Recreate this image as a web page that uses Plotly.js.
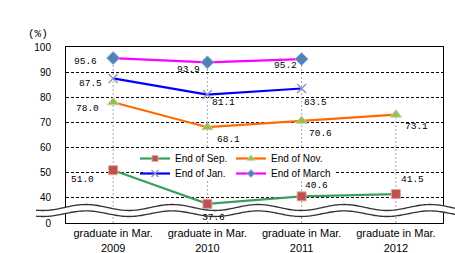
<!DOCTYPE html>
<html><head><meta charset="utf-8">
<script src="https://cdn.plot.ly/plotly-3.0.1.min.js"></script>
<style>html,body{margin:0;padding:0;background:#fff;} #chart{width:455px;height:253px;}</style>
</head><body><div id="chart"></div>
<script>
// ---- data ----
const categories = ['graduate in Mar.<br>2009', 'graduate in Mar.<br>2010', 'graduate in Mar.<br>2011', 'graduate in Mar.<br>2012'];
const seriesNames = ['End of Sep.', 'End of Nov.', 'End of Jan.', 'End of March'];
const endSep = [51.0, 37.6, 40.6, 41.5];
const endNov = [78.0, 68.1, 70.6, 73.1];
const endJan = [87.5, 81.1, 83.5, null];
const endMarch = [95.6, 93.9, 95.2, null];
const yTickVals = [30, 40, 50, 60, 70, 80, 90, 100];
const yTickText = ['0', '40', '50', '60', '70', '80', '90', '100'];
const unitLabel = '(%)';

// ---- layout constants ----
const W = 455, H = 253;
const M = {l: 66, r: 12, t: 47, b: 30};
const PW = W - M.l - M.r, PH = H - M.t - M.b;
const X = px => (px - M.l) / PW;
const Y = py => (H - M.b - py) / PH;

const allSeries = [endSep, endNov, endJan, endMarch];
const idx = categories.map((c, i) => i);

// drop lines (from highest point to axis)
const dropX = [], dropY = [];
idx.forEach(i => {
  const vals = allSeries.map(s => s[i]).filter(v => v != null);
  dropX.push(i, i, null); dropY.push(yTickVals[0], Math.max(...vals), null);
});

const styles = [
  {line: '#3A9E5F', marker: {symbol: 'square', size: 9, color: '#C0504D', line: {color: '#E6A3A1', width: 1}}, lsize: 6},
  {line: '#FF6A00', marker: {symbol: 'triangle-up', size: 10, color: '#9BBB59', line: {color: '#C3D69B', width: 1}}, lsize: 7},
  {line: '#0000FF', marker: {symbol: 'x-thin-open', size: 9, color: '#9C8FC8', line: {color: '#9C8FC8', width: 1.5}}, lsize: 7},
  {line: '#FF00FF', marker: {symbol: 'diamond', size: 10, color: '#4F81BD', line: {color: '#95B3D7', width: 1}}, lsize: 6}
];
const legendOf = ['legend', 'legend', 'legend2', 'legend2'];
const legendW = [null, 70, null, 70];

const traces = [{
  x: dropX, y: dropY, mode: 'lines', showlegend: false, hoverinfo: 'skip',
  line: {color: '#A8A4C0', width: 1, dash: '2px,2px'}
}];
allSeries.forEach((s, k) => {
  traces.push({
    x: idx, y: s, name: seriesNames[k], mode: 'lines+markers', showlegend: false,
    line: {color: styles[k].line, width: 2.2}, marker: styles[k].marker
  });
});
// legend entries (smaller symbols, as in the reference legend)
allSeries.forEach((s, k) => {
  const t = {
    x: [null], y: [null], name: seriesNames[k], mode: 'lines+markers', legend: legendOf[k],
    line: {color: styles[k].line, width: 2.2},
    marker: Object.assign({}, styles[k].marker, {size: styles[k].lsize})
  };
  if (legendW[k]) t.legendwidth = legendW[k];
  traces.push(t);
});

// label offsets (px) per series / category
const labOff = [
  [[-31, 9], [6, 14], [15, -11], [17, -15]],
  [[-26, 6], [21, 12], [18.5, 13], [21, 12]],
  [[-23, 5], [16, 8], [13.4, 14], null],
  [[-28, 3], [-19, 7], [-16.6, 6], null]
];
const annotations = [];
allSeries.forEach((s, k) => s.forEach((v, i) => {
  if (v == null) return;
  annotations.push({
    x: i, y: v, xref: 'x', yref: 'y', text: v.toFixed(1), showarrow: false,
    xshift: labOff[k][i][0], yshift: -labOff[k][i][1],
    font: {family: 'Liberation Mono, DejaVu Sans Mono, monospace', size: 9.5, color: '#000'}
  });
}));
annotations.push({
  x: X(26), y: Y(26), xref: 'paper', yref: 'paper', text: unitLabel, showarrow: false,
  font: {family: 'Liberation Mono, monospace', size: 11, color: '#000'}
});

// axis break waves
function wave(yc, amp, x0, x1) {
  const pts = [];
  for (let px = x0; px <= x1 + 0.01; px += 1.5) pts.push([px, yc - amp * Math.cos(2 * Math.PI * px / 86)]);
  return pts;
}
const up = wave(207.5, 3, 36, 456), lo = wave(213.7, 2.8, 36, 456);
const toPath = (pts, start) => pts.map((p, j) => (j === 0 && start ? 'M' : 'L') + X(p[0]).toFixed(5) + ',' + Y(p[1]).toFixed(5)).join('');
const shapes = [
  // legend background
  {type: 'rect', xref: 'paper', yref: 'paper', layer: 'above', x0: X(143), x1: X(335), y0: Y(149), y1: Y(179), fillcolor: '#fff', line: {width: 0}},
  {type: 'path', xref: 'paper', yref: 'paper', layer: 'above', path: toPath(up, true) + toPath(lo.slice().reverse(), false) + 'Z', fillcolor: '#fff', line: {width: 0}},
  {type: 'path', xref: 'paper', yref: 'paper', layer: 'above', path: toPath(up, true), line: {color: '#333', width: 1.3}},
  {type: 'path', xref: 'paper', yref: 'paper', layer: 'above', path: toPath(lo, true), line: {color: '#333', width: 1.3}}
];

const legendBase = {
  orientation: 'h', xanchor: 'left', yanchor: 'top', x: X(135), bgcolor: 'rgba(0,0,0,0)', borderwidth: 0,
  font: {family: 'Liberation Sans, Arial, sans-serif', size: 10, color: '#000'},
  entrywidth: 51, entrywidthmode: 'pixels', itemwidth: 30, tracegroupgap: 0
};

const layout = {
  width: W, height: H, margin: M, paper_bgcolor: '#fff', plot_bgcolor: '#fff',
  showlegend: true,
  legend: Object.assign({}, legendBase, {y: Y(144)}),
  legend2: Object.assign({}, legendBase, {y: Y(159)}),
  xaxis: {
    range: [-0.5, categories.length - 0.5], tickvals: idx, ticktext: categories,
    showgrid: false, zeroline: false, showline: true, mirror: true, linecolor: '#000', linewidth: 1,
    ticks: '', tickfont: {family: 'Liberation Sans, Arial, sans-serif', size: 11, color: '#000'}
  },
  yaxis: {
    range: [30, 100], tickvals: yTickVals, ticktext: yTickText,
    showgrid: true, gridcolor: '#000', gridwidth: 1, griddash: '3px,2px',
    zeroline: false, showline: true, mirror: true, linecolor: '#000', linewidth: 1,
    ticks: '', ticklabelstandoff: 12,
    tickfont: {family: 'Liberation Sans, Arial, sans-serif', size: 10, color: '#000'}
  },
  annotations, shapes
};

Plotly.newPlot('chart', traces, layout, {staticPlot: true, displayModeBar: false});
</script></body></html>
